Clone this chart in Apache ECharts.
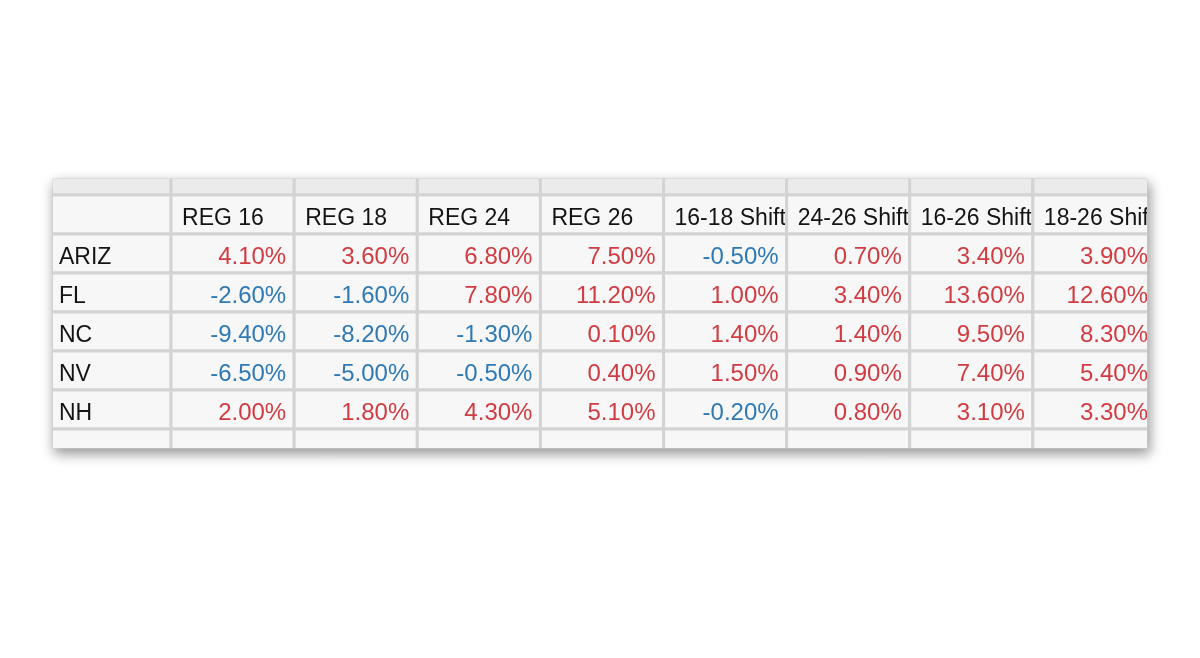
<!DOCTYPE html>
<html><head><meta charset="utf-8">
<script src="https://cdn.jsdelivr.net/npm/echarts@6/dist/echarts.min.js"></script>
<style>html,body{margin:0;background:#fff}#c{width:1200px;height:658px}</style>
</head><body><div id="c"></div>
<script>
const columns = ['', 'REG 16', 'REG 18', 'REG 24', 'REG 26', '16-18 Shift', '24-26 Shift', '16-26 Shift', '18-26 Shift'];
const states = ['ARIZ', 'FL', 'NC', 'NV', 'NH'];
const ariz = [4.10, 3.60, 6.80, 7.50, -0.50, 0.70, 3.40, 3.90];
const fl   = [-2.60, -1.60, 7.80, 11.20, 1.00, 3.40, 13.60, 12.60];
const nc   = [-9.40, -8.20, -1.30, 0.10, 1.40, 1.40, 9.50, 8.30];
const nv   = [-6.50, -5.00, -0.50, 0.40, 1.50, 0.90, 7.40, 5.40];
const nh   = [2.00, 1.80, 4.30, 5.10, -0.20, 0.80, 3.10, 3.30];
const valueRows = [ariz, fl, nc, nv, nh];

const RED = '#d03c42', BLUE = '#2f79b5', INK = '#141414';
const meta = [];
const data = [];
function add(c, r, text, kind, v) { data.push([c, r]); meta.push({ text, kind, v }); }
for (let c = 0; c < columns.length; c++) add(c, -1, '', 'strip');
for (let c = 0; c < columns.length; c++) add(c, 0, columns[c], 'head');
states.forEach((s, i) => {
  add(0, i + 1, s, 'label');
  valueRows[i].forEach((v, j) => add(j + 1, i + 1, v.toFixed(2) + '%', 'value', v));
});
for (let c = 0; c < columns.length; c++) add(c, states.length + 1, '', 'blank');

function renderItem(params, api) {
  const c = api.value(0), r = api.value(1);
  const p0 = api.coord([c, r]), p1 = api.coord([c + 1, r + 1]);
  const x = Math.min(p0[0], p1[0]), y = Math.min(p0[1], p1[1]);
  const w = Math.abs(p1[0] - p0[0]), h = Math.abs(p1[1] - p0[1]);
  const m = meta[params.dataIndex];
  const children = [{
    type: 'rect',
    shape: { x, y, width: w, height: h },
    style: { fill: m.kind === 'strip' ? '#ebebeb' : '#f7f7f7', stroke: '#d3d3d3', lineWidth: 3 }
  }];
  if (m.text) {
    const isVal = m.kind === 'value';
    children.push({
      type: 'text',
      style: {
        text: m.text,
        x: isVal ? x + w - 8 : x + 11,
        y: y + h / 2 + 4,
        align: isVal ? 'right' : 'left',
        verticalAlign: 'middle',
        fill: isVal ? (m.v < 0 ? BLUE : RED) : INK,
        font: (isVal ? '24px' : '23px') + ' "Liberation Sans", Arial, sans-serif'
      },
      clipPath: { type: 'rect', shape: { x: x + 1.5, y, width: w - 3, height: h } }
    });
  }
  return { type: 'group', children };
}

const chart = echarts.init(document.getElementById('c'));
chart.setOption({
  backgroundColor: '#ffffff',
  animation: false,
  grid: {
    show: true, left: 53, top: 179, width: 1094, height: 269,
    backgroundColor: '#f7f7f7', borderColor: '#d0d0d0', borderWidth: 1,
    shadowBlur: 12, shadowColor: 'rgba(0,0,0,0.42)', shadowOffsetX: 2, shadowOffsetY: 5
  },
  xAxis: { type: 'value', min: 0.041, max: 8.927, show: false },
  yAxis: { type: 'value', min: -0.41, max: 6.487, inverse: true, show: false },
  series: [{ type: 'custom', renderItem, data, clip: true, silent: true }]
});
</script>
</body></html>
